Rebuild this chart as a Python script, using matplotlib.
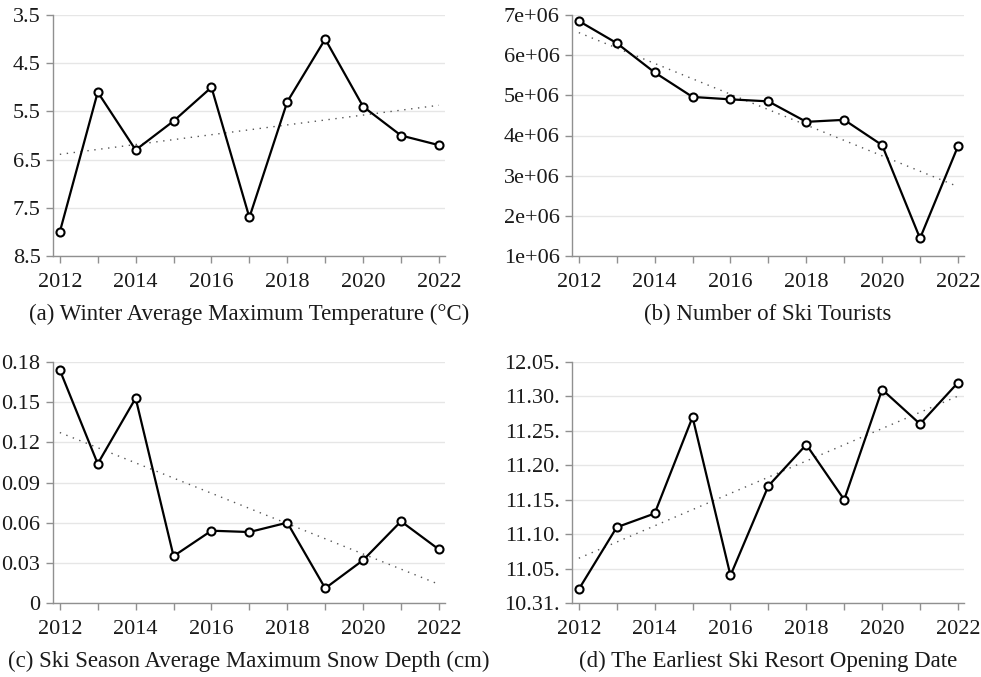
import numpy as np
import pandas as pd
import matplotlib
matplotlib.use("Agg")
import matplotlib.pyplot as plt

# Données
years = list(range(2012, 2023))
temp_max = [8.0, 5.1, 6.3, 5.7, 5.0, 7.7, 5.3, 4.0, 5.4, 6.0, 6.2]
tourists = [6.85e6, 6.30e6, 5.57e6, 4.96e6, 4.90e6, 4.85e6, 4.34e6, 4.39e6, 3.76e6, 1.44e6, 3.73e6]
snow_depth = [0.174, 0.104, 0.153, 0.035, 0.054, 0.053, 0.060, 0.011, 0.032, 0.061, 0.040]
opening_dates = ["2012-11-02", "2013-11-11", "2014-11-13", "2015-11-27", "2016-11-04",
                 "2017-11-17", "2018-11-23", "2019-11-15", "2020-12-01", "2021-11-26",
                 "2022-12-02"]

temp_ticks = [3.5, 4.5, 5.5, 6.5, 7.5, 8.5]
tourist_ticks = [1e6, 2e6, 3e6, 4e6, 5e6, 6e6, 7e6]
tourist_labels = ["1e+06", "2e+06", "3e+06", "4e+06", "5e+06", "6e+06", "7e+06"]
snow_ticks = [0, 0.03, 0.06, 0.09, 0.12, 0.15, 0.18]
snow_labels = ["0", "0.03", "0.06", "0.09", "0.12", "0.15", "0.18"]
date_tick_labels = ["10.31.", "11.05.", "11.10.", "11.15.", "11.20.", "11.25.", "11.30.", "12.05."]
year_labels = [2012, 2014, 2016, 2018, 2020, 2022]

titles = ["(a) Winter Average Maximum Temperature (°C)",
          "(b) Number of Ski Tourists",
          "(c) Ski Season Average Maximum Snow Depth (cm)",
          "(d) The Earliest Ski Resort Opening Date"]

# jours après le 31 octobre de la même année
d = pd.to_datetime(opening_dates)
days_after = [(x - pd.Timestamp(year=x.year, month=10, day=31)).days for x in d]

plt.rcParams['font.family'] = ['Liberation Serif', 'DejaVu Serif']
plt.rcParams['font.size'] = 16

W, H = 981, 677
fig = plt.figure(figsize=(W / 100, H / 100), dpi=100)


def make_axes(l, t, r, b):
    return fig.add_axes([l / W, 1 - b / H, (r - l) / W, (b - t) / H])


def style(ax, y, yticks, ylabels, ylim, title):
    x = np.array(years)
    y = np.array(y, dtype=float)
    # tendance linéaire
    coef = np.polyfit(x, y, 1)
    ax.plot(x, np.polyval(coef, x), ls=(0, (1, 4)), color='#555555', lw=1.0, zorder=2)
    ax.plot(x, y, color='black', lw=1.6, marker='o', ms=5.8, mfc='white',
            mec='black', mew=1.5, zorder=3)
    ax.set_xlim(2011.82, 2022.16)
    ax.set_ylim(*ylim)
    ax.set_xticks(years, minor=True)
    ax.set_xticks(year_labels)
    ax.set_yticks(yticks)
    ax.set_yticklabels(ylabels)
    ax.grid(axis='y', color='#e6e6e6', lw=1.0)
    ax.set_axisbelow(True)
    for s in ['top', 'right']:
        ax.spines[s].set_visible(False)
    for s in ['left', 'bottom']:
        ax.spines[s].set_color('#909090')
        ax.spines[s].set_linewidth(1.0)
    ax.tick_params(which='both', color='#909090', length=5, width=1.0,
                   labelsize=16, labelcolor='#1a1a1a')
    ax.tick_params(axis='x', which='both', pad=7)
    ax.tick_params(axis='y', pad=4)
    ax.set_xlabel(title, fontsize=16.5, labelpad=9, color='#1a1a1a')


ax_a = make_axes(53, 15, 445, 256)
style(ax_a, temp_max, temp_ticks, [str(v) for v in temp_ticks], (8.5, 3.5), titles[0])

ax_b = make_axes(572, 15, 964, 256)
style(ax_b, tourists, tourist_ticks, tourist_labels, (1e6, 7e6), titles[1])

ax_c = make_axes(53, 362, 445, 603)
style(ax_c, snow_depth, snow_ticks, snow_labels, (0, 0.18), titles[2])

ax_d = make_axes(572, 362, 964, 603)
style(ax_d, days_after, [0, 5, 10, 15, 20, 25, 30, 35], date_tick_labels, (0, 35), titles[3])

fig.savefig("out.png", dpi=100)
